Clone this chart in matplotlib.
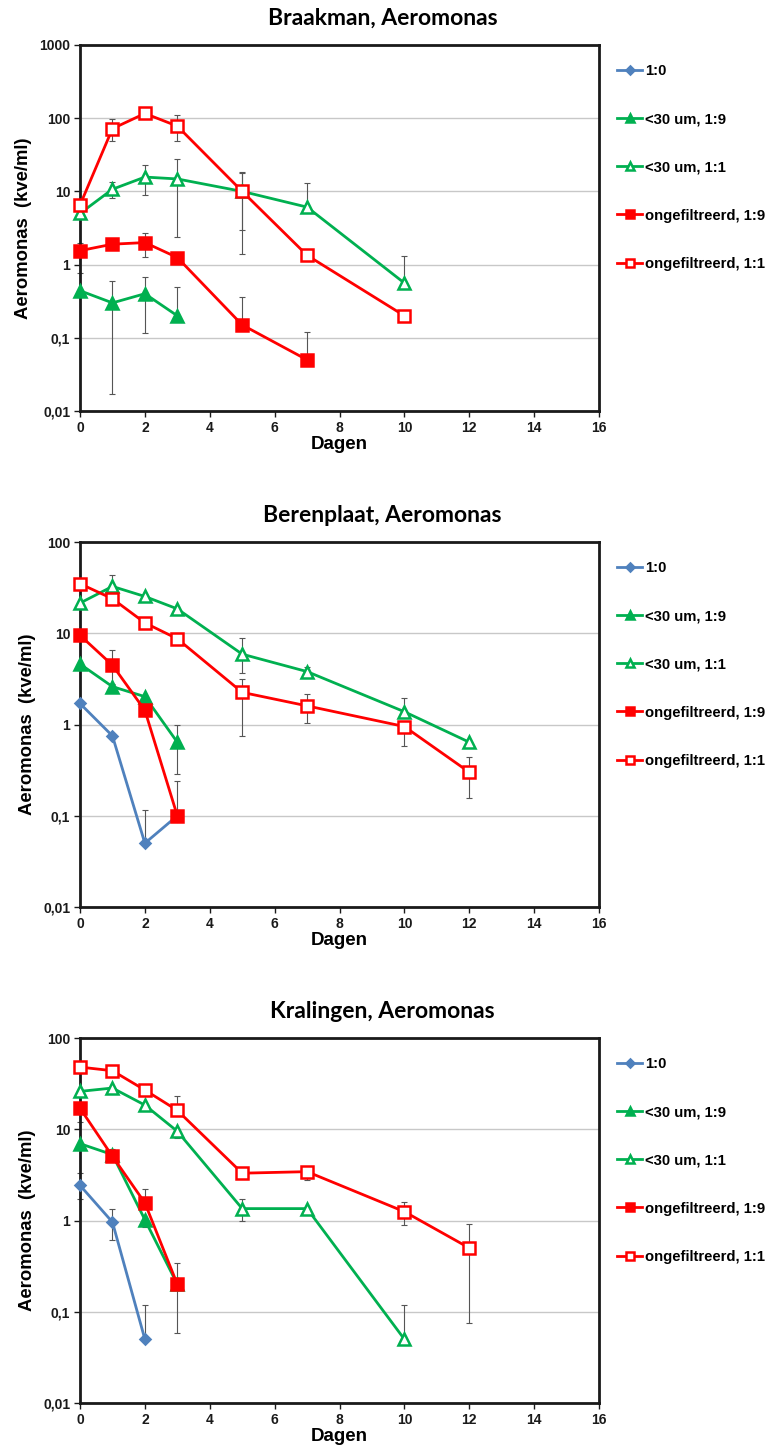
import numpy as np
import matplotlib
matplotlib.use("Agg")
import matplotlib.pyplot as plt
from matplotlib.ticker import FixedLocator, FixedFormatter

# dagen (x) en waarden per locatie; nan = geen meting / geen foutbalk
nan = np.nan
days = [0, 1, 2, 3, 5, 7, 10, 12]

series_labels = ["1:0", "<30 um, 1:9", "<30 um, 1:1", "ongefiltreerd, 1:9", "ongefiltreerd, 1:1"]
titles = ["Braakman, Aeromonas", "Berenplaat, Aeromonas", "Kralingen, Aeromonas"]

# Braakman
braak_val = [
    [nan, nan, nan, nan, nan, nan, nan, nan],
    [0.44, 0.30, 0.40, 0.20, nan, nan, nan, nan],
    [5.0, 10.7, 15.7, 14.8, 10.0, 6.1, 0.56, nan],
    [1.55, 1.9, 2.0, 1.25, 0.15, 0.05, nan, nan],
    [6.5, 72, 116, 78, 10.0, 1.34, 0.20, nan],
]
braak_hi = [
    [nan] * 8,
    [nan, 0.59, 0.68, 0.49, nan, nan, nan, nan],
    [nan, 13.6, 23, 27.4, 17.7, 12.9, 1.32, nan],
    [2.0, nan, 2.73, nan, 0.36, 0.12, nan, nan],
    [nan, 97, nan, 111, 18.4, nan, nan, nan],
]
braak_lo = [
    [nan] * 8,
    [nan, 0.017, 0.117, nan, nan, nan, nan, nan],
    [nan, 8.0, 8.8, 2.36, 2.97, nan, nan, nan],
    [0.76, nan, 1.29, nan, nan, nan, nan, nan],
    [nan, 49, nan, 49, 1.4, nan, nan, nan],
]

# Berenplaat
beren_val = [
    [1.7, 0.75, 0.05, 0.10, nan, nan, nan, nan],
    [4.6, 2.6, 2.02, 0.64, nan, nan, nan, nan],
    [21.4, 32.6, 25.3, 18.5, 5.9, 3.8, 1.38, 0.64],
    [9.5, 4.47, 1.43, 0.10, nan, nan, nan, nan],
    [34.9, 23.9, 13.0, 8.7, 2.25, 1.6, 0.95, 0.30],
]
beren_hi = [
    [nan, nan, 0.117, nan, nan, nan, nan, nan],
    [nan, nan, nan, 0.98, nan, nan, nan, nan],
    [nan, 43, nan, nan, 8.8, 4.3, 1.97, nan],
    [nan, 6.6, nan, 0.238, nan, nan, nan, nan],
    [nan, nan, nan, nan, 3.13, 2.16, nan, 0.436],
]
beren_lo = [
    [nan] * 8,
    [nan, 2.3, nan, 0.29, nan, nan, nan, nan],
    [nan, nan, nan, nan, 3.7, 3.3, nan, nan],
    [nan, 2.8, nan, nan, nan, nan, nan, nan],
    [nan, nan, nan, nan, 0.75, 1.03, 0.586, 0.158],
]

# Kralingen
kral_val = [
    [2.43, 0.96, 0.05, nan, nan, nan, nan, nan],
    [6.95, 5.27, 1.02, 0.20, nan, nan, nan, nan],
    [26, 28.3, 18.4, 9.5, 1.35, 1.35, 0.05, nan],
    [17, 5.05, 1.56, 0.20, nan, nan, nan, nan],
    [48, 43.8, 26.9, 16.1, 3.3, 3.43, 1.25, 0.50],
]
kral_hi = [
    [3.3, 1.32, 0.12, nan, nan, nan, nan, nan],
    [nan, 6.0, nan, nan, nan, nan, nan, nan],
    [nan, nan, nan, nan, 1.72, nan, 0.12, nan],
    [nan, nan, 2.2, 0.342, nan, nan, nan, nan],
    [nan, nan, nan, 23.3, nan, 3.6, 1.6, 0.92],
]
kral_lo = [
    [1.7, 0.61, nan, nan, nan, nan, nan, nan],
    [nan, nan, 0.85, nan, nan, nan, nan, nan],
    [nan, nan, nan, 8.0, 1.0, nan, nan, nan],
    [12, nan, 1.32, 0.059, nan, nan, nan, nan],
    [nan, nan, nan, nan, nan, 2.8, 0.89, 0.075],
]

panels = [(braak_val, braak_hi, braak_lo, 1000),
          (beren_val, beren_hi, beren_lo, 100),
          (kral_val, kral_hi, kral_lo, 100)]

colors = ["#4F81BD", "#00B050", "#00B050", "#FF0000", "#FF0000"]
markers = ["D", "^", "^", "s", "s"]
msizes = [5, 8, 8, 8, 8]
filled = [True, True, False, True, False]

W, H = 765, 1456
fig = plt.figure(figsize=(W / 100, H / 100), dpi=100)
boxes = [(45, 411), (542, 907), (1038, 1403)]
title_y = [18, 515, 1011]
x0, x1 = 80, 599

tick_font = dict(family="Liberation Sans", weight="bold", size=10)

for (vals, his, los, ymax), (top, bot), title, ty in zip(panels, boxes, titles, title_y):
    ax = fig.add_axes([x0 / W, 1 - bot / H, (x1 - x0) / W, (bot - top) / H])
    ax.set_yscale("log")
    ax.set_ylim(0.01, ymax)
    ax.set_xlim(0, 16)
    ax.set_xticks(range(0, 17, 2))
    ax.set_xticklabels([str(t) for t in range(0, 17, 2)], **tick_font)
    decades = [10.0 ** k for k in range(-2, int(np.log10(ymax)) + 1)]
    ax.yaxis.set_major_locator(FixedLocator(decades))
    ax.yaxis.set_major_formatter(FixedFormatter(
        [("%g" % d).replace(".", ",") for d in decades]))
    ax.yaxis.set_minor_locator(FixedLocator([]))
    for lab in ax.get_yticklabels():
        lab.set_fontproperties(matplotlib.font_manager.FontProperties(**tick_font))
    ax.grid(axis="y", color="#c8c8c8", lw=1.0)
    ax.set_axisbelow(True)
    for s in ax.spines.values():
        s.set_linewidth(2.0)
        s.set_color("#1a1a1a")
    ax.tick_params(axis="both", direction="out", length=4, width=1, pad=3, colors="#1a1a1a")

    for i in range(5):
        v = np.array(vals[i], float)
        hi = np.array(his[i], float)
        lo = np.array(los[i], float)
        x = np.array(days, float)
        m = ~np.isnan(v)
        # foutbalken
        up = np.where(np.isnan(hi), 0, hi - v)
        dn = np.where(np.isnan(lo), 0, v - lo)
        if m.any():
            ax.errorbar(x[m], v[m], yerr=[dn[m], up[m]], fmt="none", ecolor="#555555",
                        elinewidth=0.8, capsize=2.5, capthick=0.8, zorder=2, clip_on=False)
        ax.plot(x[m], v[m], color=colors[i], lw=2.0, marker=markers[i], ms=msizes[i],
                mfc=colors[i] if filled[i] else "white", mec=colors[i], mew=1.8,
                label=series_labels[i], zorder=3 + i, clip_on=False)

    fig.text(0.5, 1 - ty / H, title, family="Lato", weight="bold", size=16.5,
             ha="center", va="center")
    ax.set_xlabel("Dagen", family="Liberation Sans", weight="bold", size=13.5, labelpad=1)
    ax.set_ylabel("Aeromonas  (kve/ml)", family="Liberation Sans", weight="bold", size=13.3, labelpad=5)

    leg = ax.legend(loc="upper left", bbox_to_anchor=(1.035, 0.948), frameon=False,
                    prop=dict(family="Liberation Sans", weight="bold", size=10.7),
                    handlelength=1.7, handletextpad=0.15, labelspacing=2.3,
                    borderaxespad=0, borderpad=0, markerscale=0.75)

fig.savefig("out.png", dpi=100)
